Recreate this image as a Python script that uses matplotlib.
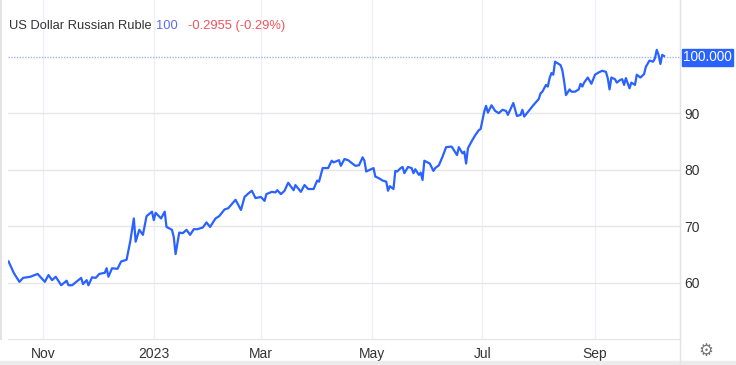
import matplotlib
matplotlib.use("Agg")
import matplotlib.pyplot as plt
import pandas as pd
from matplotlib.patches import Rectangle

plt.rcParams["font.family"] = ["Liberation Sans", "DejaVu Sans"]

# USD/RUB daily close
dates = [
    "2022-10-13", "2022-10-16", "2022-10-19", "2022-10-21", "2022-10-25", "2022-10-29",
    "2022-11-02", "2022-11-04", "2022-11-06", "2022-11-08", "2022-11-11", "2022-11-14",
    "2022-11-15", "2022-11-17", "2022-11-22", "2022-11-23", "2022-11-25", "2022-11-26",
    "2022-11-28", "2022-11-30", "2022-12-02", "2022-12-05", "2022-12-06", "2022-12-07",
    "2022-12-09", "2022-12-12", "2022-12-14", "2022-12-17", "2022-12-19", "2022-12-21",
    "2022-12-22", "2022-12-24", "2022-12-26", "2022-12-28", "2022-12-31", "2023-01-01",
    "2023-01-02", "2023-01-05", "2023-01-07", "2023-01-08", "2023-01-11", "2023-01-12",
    "2023-01-13", "2023-01-15", "2023-01-17", "2023-01-19", "2023-01-21", "2023-01-23",
    "2023-01-25", "2023-01-28", "2023-01-30", "2023-02-01", "2023-02-04", "2023-02-06",
    "2023-02-09", "2023-02-11", "2023-02-15", "2023-02-18", "2023-02-20", "2023-02-22",
    "2023-02-24", "2023-02-26", "2023-03-01", "2023-03-03", "2023-03-04", "2023-03-07",
    "2023-03-09", "2023-03-10", "2023-03-12", "2023-03-14", "2023-03-16", "2023-03-19",
    "2023-03-20", "2023-03-23", "2023-03-25", "2023-03-27", "2023-03-30", "2023-04-01",
    "2023-04-02", "2023-04-04", "2023-04-07", "2023-04-09", "2023-04-10", "2023-04-13",
    "2023-04-14", "2023-04-16", "2023-04-18", "2023-04-22", "2023-04-24", "2023-04-26",
    "2023-04-27", "2023-04-28", "2023-04-30", "2023-05-02", "2023-05-03", "2023-05-05",
    "2023-05-07", "2023-05-09", "2023-05-10", "2023-05-11", "2023-05-13", "2023-05-14",
    "2023-05-15", "2023-05-17", "2023-05-18", "2023-05-19", "2023-05-21", "2023-05-23",
    "2023-05-24", "2023-05-25", "2023-05-27", "2023-05-28", "2023-05-29", "2023-05-30",
    "2023-06-02", "2023-06-04", "2023-06-05", "2023-06-07", "2023-06-09", "2023-06-11",
    "2023-06-14", "2023-06-15", "2023-06-17", "2023-06-18", "2023-06-20", "2023-06-21",
    "2023-06-22", "2023-06-23", "2023-06-25", "2023-06-27", "2023-06-29", "2023-06-30",
    "2023-07-02", "2023-07-03", "2023-07-04", "2023-07-06", "2023-07-08", "2023-07-10",
    "2023-07-12", "2023-07-14", "2023-07-15", "2023-07-17", "2023-07-18", "2023-07-20",
    "2023-07-22", "2023-07-23", "2023-07-24", "2023-07-27", "2023-07-29", "2023-08-01",
    "2023-08-02", "2023-08-03", "2023-08-05", "2023-08-06", "2023-08-07", "2023-08-08",
    "2023-08-09", "2023-08-10", "2023-08-13", "2023-08-14", "2023-08-15", "2023-08-16",
    "2023-08-18", "2023-08-19", "2023-08-21", "2023-08-23", "2023-08-24", "2023-08-25",
    "2023-08-26", "2023-08-28", "2023-08-30", "2023-09-01", "2023-09-03", "2023-09-05",
    "2023-09-07", "2023-09-08", "2023-09-09", "2023-09-10", "2023-09-12", "2023-09-13",
    "2023-09-15", "2023-09-16", "2023-09-17", "2023-09-18", "2023-09-20", "2023-09-21",
    "2023-09-23", "2023-09-24", "2023-09-26", "2023-09-28", "2023-09-29", "2023-10-01",
    "2023-10-03", "2023-10-04", "2023-10-05", "2023-10-06", "2023-10-07", "2023-10-08",
    "2023-10-09",
]
rates = [
    63.8, 61.7, 60.2, 60.9, 61.1, 61.6,
    60.2, 61.4, 60.5, 61.1, 59.6, 60.4,
    59.6, 59.6, 60.9, 59.8, 60.5, 59.6,
    61.0, 60.9, 61.6, 61.8, 62.6, 61.1,
    62.6, 62.5, 63.8, 64.1, 67.3, 71.4,
    67.3, 69.4, 68.5, 71.8, 72.6, 71.1,
    72.4, 71.4, 72.6, 69.9, 69.4, 68.1,
    65.1, 68.9, 68.8, 69.4, 68.5, 69.5,
    69.5, 69.8, 70.7, 69.9, 71.4, 71.8,
    73.0, 73.2, 74.7, 72.9, 75.2, 75.8,
    76.3, 75.0, 75.2, 74.5, 75.7, 76.1,
    76.0, 76.4, 75.7, 76.3, 77.7, 76.4,
    77.3, 76.1, 77.3, 76.6, 76.6, 78.1,
    77.9, 80.3, 80.3, 81.6, 81.3, 81.7,
    80.7, 81.9, 81.7, 80.7, 80.8, 82.2,
    81.6, 79.7, 80.0, 80.3, 78.8, 78.5,
    78.1, 77.9, 76.3, 77.1, 76.6, 79.8,
    79.7, 80.3, 80.5, 79.4, 80.5, 80.3,
    79.4, 80.1, 79.1, 79.5, 78.2, 81.6,
    81.1, 79.8, 80.3, 80.8, 82.3, 84.0,
    84.1, 83.6, 82.6, 84.0, 82.9, 83.2,
    81.1, 83.8, 85.0, 86.1, 87.0, 87.2,
    90.3, 91.3, 90.1, 91.4, 90.4, 90.0,
    90.6, 90.4, 89.7, 91.1, 91.8, 89.5,
    89.7, 90.6, 89.4, 90.6, 91.4, 92.5,
    93.5, 93.8, 95.0, 94.7, 96.2, 97.1,
    96.8, 99.1, 98.5, 97.6, 95.6, 93.2,
    94.2, 93.8, 93.8, 94.2, 95.2, 94.7,
    95.4, 96.3, 95.2, 96.8, 97.2, 97.5,
    97.3, 96.2, 94.2, 96.3, 96.0, 95.4,
    95.9, 96.0, 95.0, 96.2, 94.4, 95.4,
    95.0, 96.8, 96.3, 96.9, 98.2, 99.3,
    99.1, 99.7, 101.2, 100.3, 98.7, 100.3,
    100.1,
]
month_ticks = ["2022-11-01", "2023-01-01", "2023-03-01", "2023-05-01", "2023-07-01", "2023-09-01"]
month_labels = ["Nov", "2023", "Mar", "May", "Jul", "Sep"]
y_ticks = [60, 70, 80, 90]
last_label = "100.000"
ref_level = 100

x = pd.to_datetime(dates)
LINE = "#2962ff"
TXT = "#333333"

fig = plt.figure(figsize=(7.36, 3.65), dpi=100)
ax = fig.add_axes([8 / 736, 26 / 365, 672 / 736, 339 / 365])

ax.plot(x, rates, color=LINE, lw=1.6, solid_joinstyle="round", zorder=3)
ax.axhline(ref_level, color="#9fb5f7", lw=1.0, ls=(0, (1, 1)), zorder=2)

start = pd.Timestamp("2022-11-01")
ax.set_xlim(start - pd.Timedelta(days=19.3), start + pd.Timedelta(days=350.8))
ax.set_ylim(50.1, 110)

ax.set_xticks(pd.to_datetime(month_ticks))
ax.set_xticklabels(month_labels)
ax.yaxis.tick_right()
ax.set_yticks(y_ticks)
ax.tick_params(axis="both", length=0, labelsize=10, colors=TXT)
ax.tick_params(axis="x", pad=6)
ax.tick_params(axis="y", pad=3)
ax.grid(axis="x", color="#edf1f7", lw=1)
ax.grid(axis="y", color="#e6e6e6", lw=1)
ax.set_axisbelow(True)
for s in ["top", "left"]:
    ax.spines[s].set_visible(False)
ax.spines["right"].set_color("#e3e3e3")
ax.spines["bottom"].set_color("#e3e3e3")

# price box on the right axis
box_y = ax.transData.transform((0, ref_level))[1] / 365
fig.patches.append(Rectangle((682 / 736, box_y - 9 / 365), 51 / 736, 17 / 365,
                             transform=fig.transFigure, color="#2962ff", zorder=5))
fig.text(707.5 / 736, box_y, last_label, color="white", fontsize=9.8,
         ha="center", va="center", zorder=6)

# right axis extends through the bottom strip
fig.add_artist(plt.Line2D([680 / 736, 680 / 736], [0, 1], color="#e3e3e3", lw=1))
fig.add_artist(plt.Line2D([1 / 736, 1 / 736], [26 / 365, 1], color="#e3e3e3", lw=1.5))
fig.patches.append(Rectangle((0, 0), 1, 4 / 365, transform=fig.transFigure,
                             color="#ececec", zorder=1))
fig.text(706 / 736, 1 - 351 / 365, "\u2699", color="#777777", fontsize=12,
         ha="center", va="center", family="DejaVu Sans")

# header
fig.text(9 / 736, 1 - 26 / 365, "US Dollar Russian Ruble", color=TXT, fontsize=9.3, va="center")
fig.text(156 / 736, 1 - 26 / 365, "100", color="#5a6cf2", fontsize=9.3, va="center")
fig.text(188 / 736, 1 - 26 / 365, "-0.2955 (-0.29%)", color="#f0525a", fontsize=9.3, va="center")

fig.savefig("out.png", dpi=100)
